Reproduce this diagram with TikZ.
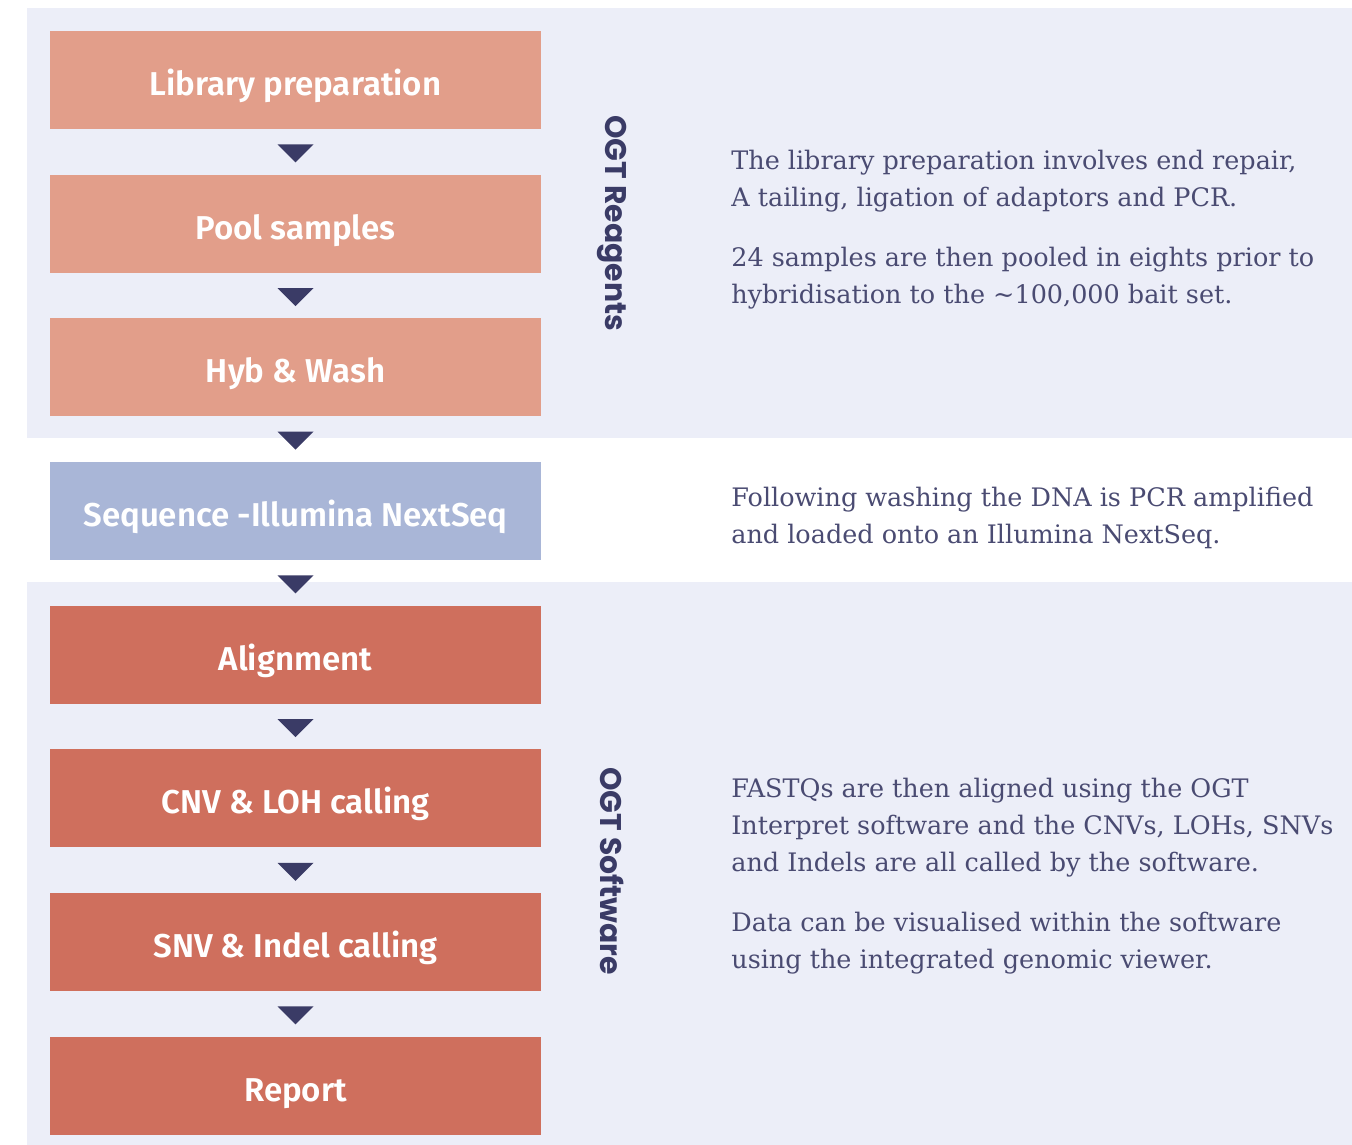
\documentclass[tikz,border=0pt]{standalone}
\usepackage{fontspec}
\setmainfont{DejaVu Serif}
\newfontfamily\boxfont{Fira Sans}[BoldFont={Fira Sans SemiBold}]
\newfontfamily\sidefont{Poppins}
\usetikzlibrary{
	positioning,
	shapes.geometric,
	calc
}

\definecolor{panel}{HTML}{ECEEF8}
\definecolor{prep}{HTML}{E29E8A}
\definecolor{seqc}{HTML}{A9B6D7}
\definecolor{soft}{HTML}{CF6F5D}
\definecolor{navy}{HTML}{3A3B66}
\definecolor{ink}{HTML}{4A4B72}

\begin{document}
\begin{tikzpicture}[
			x=0.02cm, y=-0.02cm,
			stage/.style={minimum width=9.82cm, minimum height=1.96cm, inner sep=0pt,
				text height=0.62cm, text depth=0pt,
				text=white, font=\boxfont\bfseries\fontsize{18.8}{21}\selectfont},
			pointer/.style={isosceles triangle, isosceles triangle stretches,
				shape border rotate=270, minimum width=0.72cm, minimum height=0.36cm,
				inner sep=0pt, fill=navy},
			sidelbl/.style={rotate=-90, text=navy, inner sep=0pt,
				font=\sidefont\bfseries\fontsize{17}{20}\selectfont},
			para/.style={align=left, inner sep=0pt, text=ink,
				font=\fontsize{14.5}{20.98}\selectfont}
		]

		\useasboundingbox (0,0) rectangle (1352,1145);

		% shaded bands behind the reagent and software steps
		\fill[panel] (27,8) rectangle (1352,438);
		\fill[panel] (27,582) rectangle (1352,1145);

		% workflow steps
		\node[stage, fill=prep] (lib) at (295.5,80) {Library preparation};
		\node[stage, fill=prep, below=0.9cm of lib] (pool) {Pool samples};
		\node[stage, fill=prep, below=0.9cm of pool] (hyb) {Hyb \& Wash};
		\node[stage, fill=seqc, below=0.9cm of hyb] (seq) {Sequence -Illumina NextSeq};
		\node[stage, fill=soft, below=0.9cm of seq] (align) {Alignment};
		\node[stage, fill=soft, below=0.9cm of align] (cnv) {CNV \& LOH calling};
		\node[stage, fill=soft, below=0.9cm of cnv] (snv) {SNV \& Indel calling};
		\node[stage, fill=soft, below=0.9cm of snv] (rep) {Report};

		% arrow heads between the steps
		\foreach \a/\b [count=\i] in {lib/pool, pool/hyb, hyb/seq, seq/align, align/cnv, cnv/snv, snv/rep}
			\node[pointer] (t\i) at ($(\a.south)!0.5!(\b.north)$) {};

		% group labels
		\node[sidelbl] (reag) at (612,223) {OGT Reagents};
		\node[sidelbl] (softw) at (612,871) {OGT Software};

		% notes
		\node[para, anchor=north west] (p1) at (731,150)
			{The library preparation involves end repair,\\ A tailing, ligation of adaptors and PCR.};
		\node[para, below right=0.68cm and 0cm of p1.south west] (p2)
			{24 samples are then pooled in eights prior to\\ hybridisation to the \textasciitilde100,000 bait set.};
		\node[para, anchor=north west] (p3) at (731,487)
			{Following washing the DNA is PCR amplified\\ and loaded onto an Illumina NextSeq.};
		\node[para, anchor=north west] (p4) at (731,778)
			{FASTQs are then aligned using the OGT\\ Interpret software and the CNVs, LOHs, SNVs\\ and Indels are all called by the software.};
		\node[para, below right=0.68cm and 0cm of p4.south west] (p5)
			{Data can be visualised within the software\\ using the integrated genomic viewer.};
	\end{tikzpicture}
\end{document}
